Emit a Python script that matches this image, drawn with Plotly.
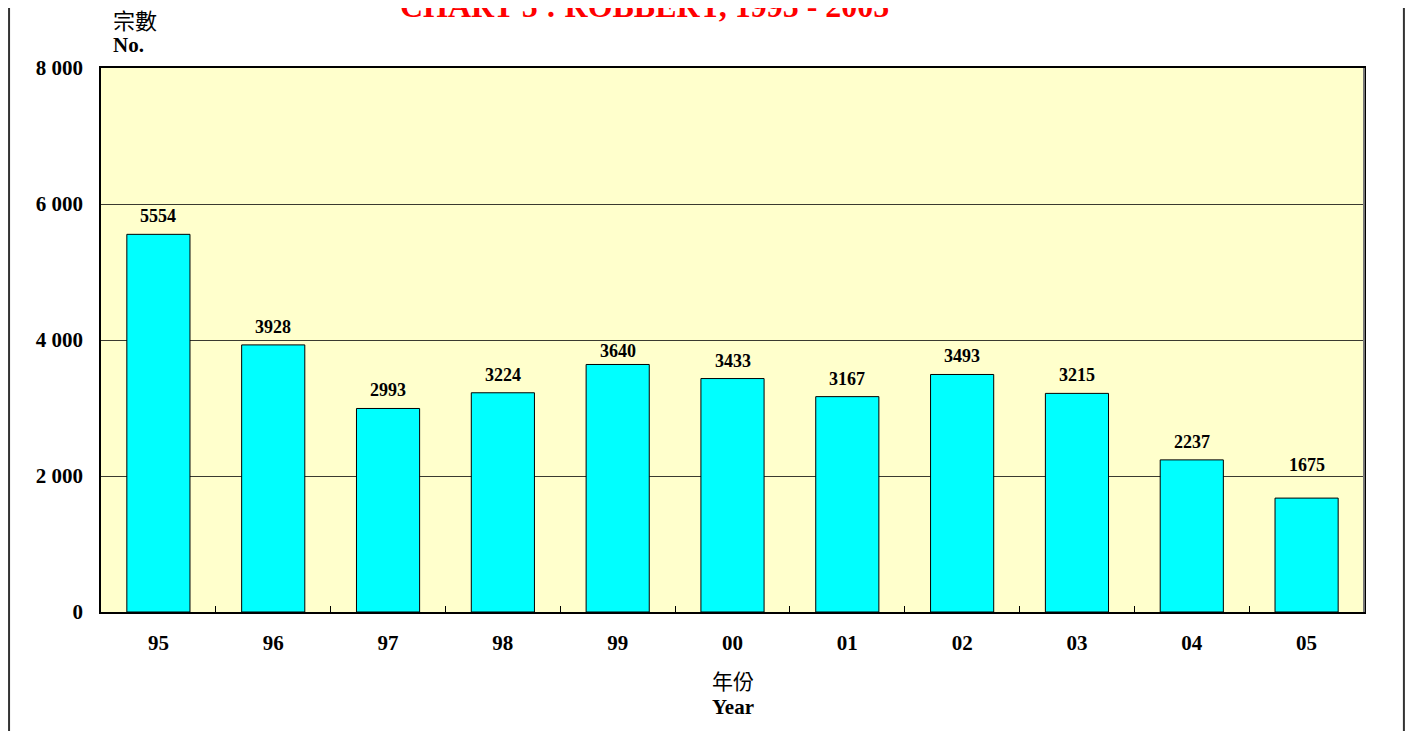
import plotly.graph_objects as go

# ==========================
# DATA
# ==========================

years = ["95", "96", "97", "98", "99", "00", "01", "02", "03", "04", "05"]
robbery_cases = [5554, 3928, 2993, 3224, 3640, 3433, 3167, 3493, 3215, 2237, 1675]

y_tick_values = [0, 2000, 4000, 6000, 8000]
y_tick_labels = ["0", "2 000", "4 000", "6 000", "8 000"]

TITLE = "CHART 5 : ROBBERY, 1995 - 2005"

SERIF = "Liberation Serif, Times New Roman, serif"
CJK = "Noto Sans CJK TC, Noto Sans CJK SC, sans-serif"

# ==========================
# BARS
# ==========================

fig = go.Figure()

fig.add_trace(go.Bar(
    x=years,
    y=robbery_cases,
    marker=dict(color="#00FFFF", line=dict(color="black", width=1)),
    hoverinfo="x+y",
))

# ==========================
# LAYOUT
# (page body has an 8px margin, so figure is a bit smaller than the window)
# ==========================

fig.update_layout(
    width=1398,
    height=723,
    margin=dict(l=93, r=42, t=60, b=119, autoexpand=False),
    paper_bgcolor="white",
    plot_bgcolor="#FFFFCC",
    showlegend=False,
    bargap=0.45,
    font=dict(family=SERIF, color="black"),
)

fig.update_xaxes(
    type="category",
    showline=True,
    linecolor="black",
    linewidth=1.5,
    mirror=True,
    ticks="inside",
    tickson="boundaries",
    ticklen=6,
    tickcolor="black",
    tickangle=0,
    tickfont=dict(family=SERIF, size=21, color="black", weight="bold"),
    ticklabelstandoff=11,
    showgrid=False,
)

fig.update_yaxes(
    range=[0, 8000],
    tickvals=y_tick_values,
    ticktext=y_tick_labels,
    tickfont=dict(family=SERIF, size=21, color="black", weight="bold"),
    ticklabelstandoff=12,
    showline=True,
    linecolor="black",
    linewidth=1.5,
    mirror=True,
    ticks="",
    showgrid=True,
    gridcolor="#3a3a30",
    gridwidth=1,
    zeroline=False,
)

# ==========================
# TEXTS
# ==========================

annotations = [
    dict(text="<b>" + TITLE + "</b>", x=0.43, y=1.078, xanchor="center", yanchor="bottom",
         font=dict(family=SERIF, size=32, color="#FF0000")),
    dict(text="宗數", x=0.008, y=1.090, xanchor="left", yanchor="middle",
         font=dict(family=CJK, size=22, color="black")),
    dict(text="<b>No.</b>", x=0.008, y=1.0423, xanchor="left", yanchor="middle",
         font=dict(family=SERIF, size=21, color="black")),
    dict(text="年份", x=0.5, y=-0.125, xanchor="center", yanchor="middle",
         font=dict(family=CJK, size=21, color="black")),
    dict(text="<b>Year</b>", x=0.5, y=-0.1746, xanchor="center", yanchor="middle",
         font=dict(family=SERIF, size=21, color="black")),
]
for a in annotations:
    a.update(xref="paper", yref="paper", showarrow=False)

# value labels over the bars (category axis: x given as category index)
# a few labels sit a little higher/lower in the original
label_yshift = [6, 6, 6, 6, 1, 6, 6, 6, 6, 6, 21]
for i, v in enumerate(robbery_cases):
    annotations.append(dict(
        text="<b>" + str(v) + "</b>", x=i, y=v, xref="x", yref="y",
        xanchor="center", yanchor="bottom", yshift=label_yshift[i], showarrow=False,
        font=dict(family=SERIF, size=18, color="black"),
    ))

fig.update_layout(annotations=annotations)

# page frame lines at left and right edges, and grey right edge of plot
fig.add_shape(type="line", xref="paper", yref="paper", x0=-0.0728, x1=-0.0728, y0=-0.3, y1=1.2,
              line=dict(color="#333333", width=2))
fig.add_shape(type="line", xref="paper", yref="paper", x0=1.0316, x1=1.0316, y0=-0.3, y1=1.2,
              line=dict(color="#333333", width=2))
fig.add_shape(type="line", xref="paper", yref="paper", x0=1, x1=1, y0=0, y1=1,
              line=dict(color="#777777", width=2))

# ==========================
# SAVE
# ==========================

fig.write_html("out.html")
